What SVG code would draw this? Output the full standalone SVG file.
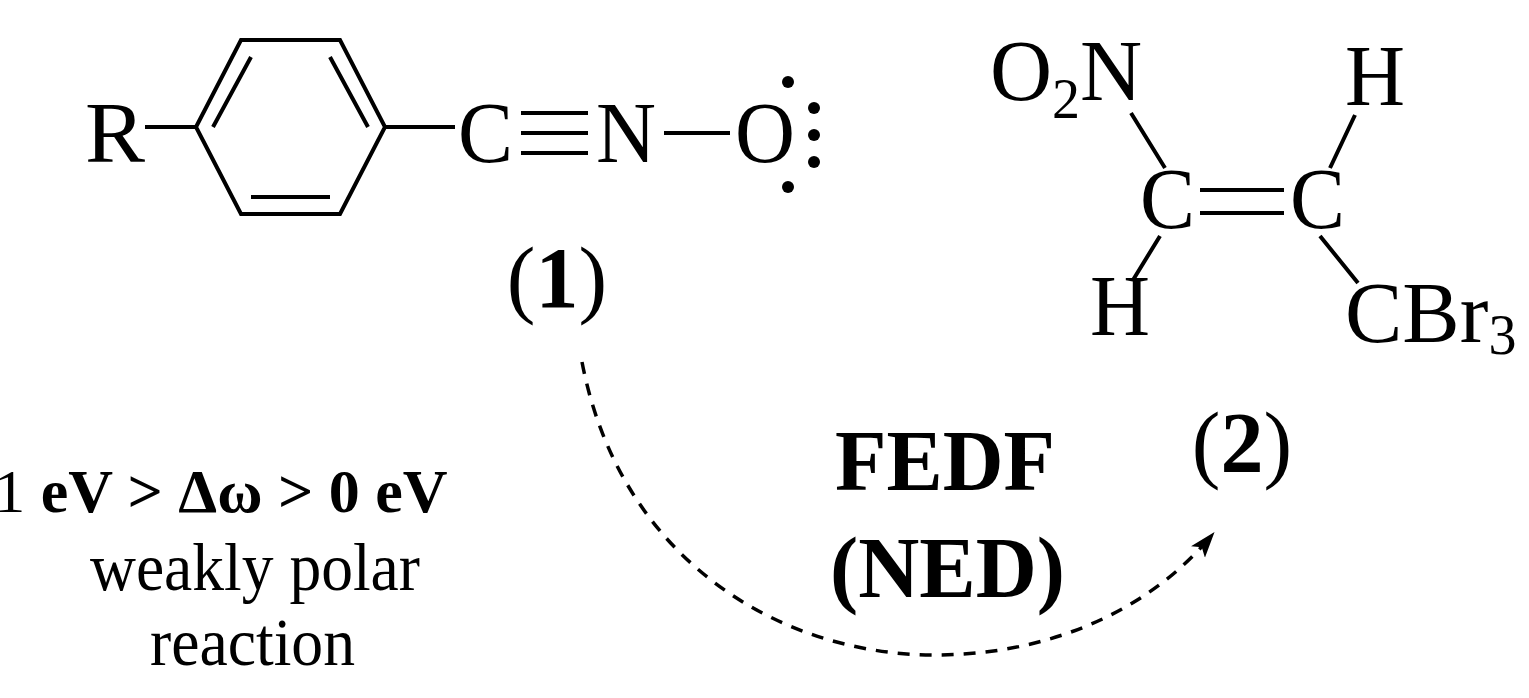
<svg xmlns="http://www.w3.org/2000/svg" width="1529" height="698" viewBox="0 0 1529 698">
<style>
text{font-family:"Liberation Serif","Times New Roman",serif;fill:#000}
.m{font-size:86px}
.s{font-size:56px}
.l{font-size:68px}
.b{font-weight:bold}
.bond{stroke:#000;stroke-width:4;fill:none}
.con{stroke:#000;stroke-width:3.5;fill:none;stroke-dasharray:12 10}
</style>
<defs><marker id="ah" markerWidth="26" markerHeight="26" refX="22" refY="13" orient="auto" markerUnits="userSpaceOnUse" viewBox="0 0 26 26"><path d="M0,4 L26,13 L0,22 L6,13 Z" fill="#000"/></marker></defs>
<g id="mol1">
<text class="m" x="85" y="162" textLength="60" lengthAdjust="spacingAndGlyphs">R</text>
<path class="bond" d="M145,127 H196"/>
<path class="bond" d="M196,127 L241,40 H340 L385,127 L340,214 H241 Z"/>
<path class="bond" d="M213,127 L251,57 M330,57 L368,127 M251,197 H330"/>
<path class="bond" d="M385,127 H455"/>
<text class="m" x="458" y="162" textLength="55" lengthAdjust="spacingAndGlyphs">C</text>
<path class="bond" d="M521,113 H588 M521,133 H588 M521,153 H588"/>
<text class="m" x="596" y="162" textLength="60" lengthAdjust="spacingAndGlyphs">N</text>
<path class="bond" d="M664,133 H730"/>
<text class="m" x="735" y="162" textLength="60" lengthAdjust="spacingAndGlyphs">O</text>
<circle cx="788" cy="82" r="6"/><circle cx="814" cy="108" r="6"/><circle cx="814" cy="135" r="6"/><circle cx="814" cy="162" r="6"/><circle cx="788" cy="187" r="6"/>
<text class="m" x="557" y="307" text-anchor="middle">(<tspan class="b">1</tspan>)</text>
</g>
<g id="mol2">
<text class="m" x="990" y="100">O<tspan class="s" dy="18">2</tspan><tspan dy="-18">N</tspan></text>
<text class="m" x="1345" y="105" textLength="60" lengthAdjust="spacingAndGlyphs">H</text>
<path class="bond" d="M1131,113 L1165,168 M1355,115 L1330,168"/>
<text class="m" x="1140" y="228" textLength="55" lengthAdjust="spacingAndGlyphs">C</text>
<path class="bond" d="M1200,190 H1284 M1200,213 H1284"/>
<text class="m" x="1290" y="228" textLength="55" lengthAdjust="spacingAndGlyphs">C</text>
<path class="bond" d="M1160,236 L1133,280 M1320,236 L1358,283"/>
<text class="m" x="1090" y="335" textLength="60" lengthAdjust="spacingAndGlyphs">H</text>
<text class="m" x="1345" y="342">CBr<tspan class="s" dy="12">3</tspan></text>
<text class="m" x="1242" y="472" text-anchor="middle">(<tspan class="b">2</tspan>)</text>
</g>
<g id="labels">
<text x="221" y="512" text-anchor="middle" style="font-size:62px">1 <tspan class="b">eV &gt; Δω &gt; 0 eV</tspan></text>
<text class="l" x="90" y="590" textLength="330" lengthAdjust="spacingAndGlyphs">weakly polar</text>
<text class="l" x="150" y="665" textLength="205" lengthAdjust="spacingAndGlyphs">reaction</text>
<text class="m b" x="835" y="490" textLength="220" lengthAdjust="spacingAndGlyphs">FEDF</text>
<text class="m b" x="830" y="597" textLength="235" lengthAdjust="spacingAndGlyphs">(NED)</text>
</g>
<g id="connectors">
<path class="con" d="M582,362 C620,560 780,655 935,655 C1050,655 1150,610 1212,535" marker-end="url(#ah)"/>
</g>
</svg>
